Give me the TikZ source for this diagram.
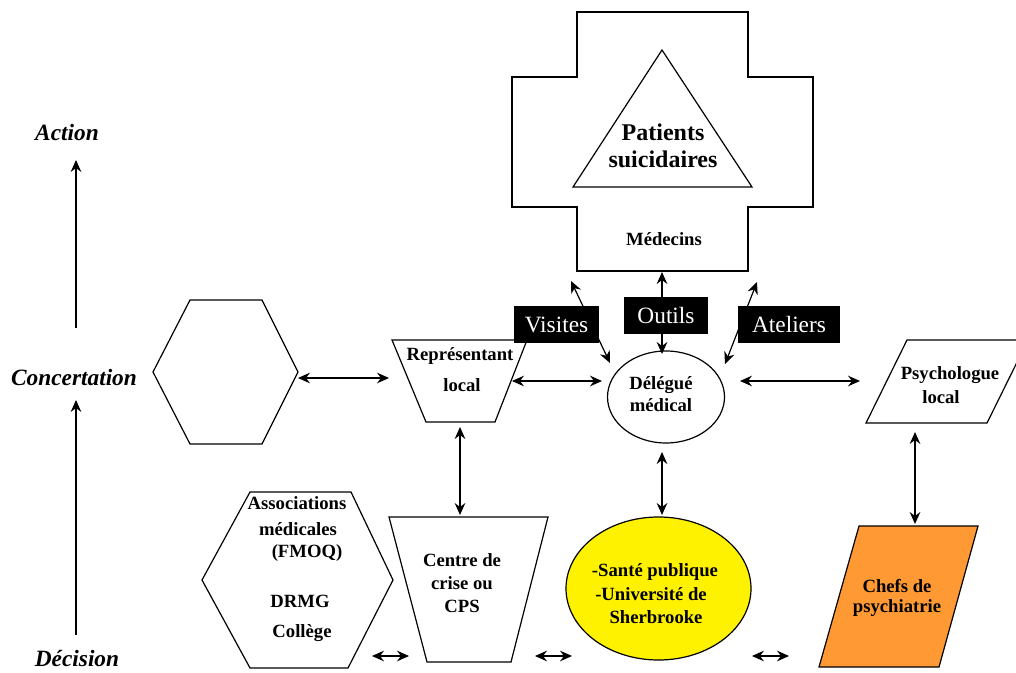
\documentclass[tikz,border=0pt]{standalone}
\usepackage{fontspec}
\setmainfont{Liberation Serif}
\usetikzlibrary{arrows.meta,shapes.geometric}
\begin{document}
\begin{tikzpicture}[x=0.75pt,y=-0.75pt,
  shp/.style={draw=black,line width=0.9pt,line join=miter},
  txt/.style={inner sep=0pt,font=\fontsize{14}{17}\selectfont\bfseries},
  big/.style={inner sep=0pt,align=center,font=\fontsize{18}{20.25}\selectfont\bfseries},
  lbl/.style={fill=black,text=white,inner sep=0pt,minimum height=27.75pt,font=\fontsize{17.5}{20}\selectfont},
  ax/.style={inner sep=0pt,font=\fontsize{17.5}{20}\selectfont\bfseries\itshape},
  tip/.tip={Stealth[length=9pt,width=8pt,inset=3pt]},
  dbl/.style={line width=0.9pt,tip-tip},
  sgl/.style={line width=0.9pt,-tip}
]
\clip (0,0) rectangle (1016,673);
\fill[white] (0,0) rectangle (1016,673);

% axis
\node[ax] (action) at (67,133) {Action};
\node[ax] (conc) at (74,378) {Concertation};
\node[ax] (dec) at (77,659) {Décision};
\coordinate (a1) at (76,328); \coordinate (a2) at (76,160);
\coordinate (a3) at (76,635); \coordinate (a4) at (76,400);
\draw[sgl] (a1) -- (a2);
\draw[sgl] (a3) -- (a4);

% cross with triangle
\draw[shp] (577,12) -- (748,12) -- (748,77) -- (813,77) -- (813,207) -- (748,207)
  -- (748,271) -- (577,271) -- (577,207) -- (512,207) -- (512,77) -- (577,77) -- cycle;
\draw[shp] (662,50) -- (752,187) -- (573,187) -- cycle;
\node[big] (patients) at (663,146) {Patients\\suicidaires};
\node[txt] (medecins) at (664,239) {Médecins};

% left hexagon
\draw[shp] (153,372) -- (190,300) -- (262,300) -- (298,372) -- (262,444) -- (190,444) -- cycle;

% representant local
\draw[shp] (392,340) -- (527,340) -- (495,422) -- (426,422) -- cycle;
\node[txt] (rep1) at (460,356) {Représentant};
\node[txt] (rep2) at (462,385) {local};

% delegue medical
\node[ellipse,draw=black,line width=0.9pt,minimum width=87.75pt,minimum height=69pt,inner sep=0pt] (del) at (666,397) {};
\node[txt,align=center,font=\fontsize{14}{17}\selectfont\bfseries] (deltxt) at (661,394) {Délégué\\médical};

% psychologue local
\draw[shp] (907,340) -- (1028,340) -- (987,423) -- (866,423) -- cycle;
\node[txt] (psy1) at (950,375) {Psychologue};
\node[txt] (psy2) at (941,397) {local};

% associations hexagon
\draw[shp] (202,580) -- (250,492) -- (351,492) -- (393,580) -- (348,668) -- (250,668) -- cycle;
\node[txt] (as1) at (297,503) {Associations};
\node[txt] (as2) at (298,529) {médicales};
\node[txt] (as3) at (307,553) {(FMOQ)};
\node[txt] (as4) at (300,601) {DRMG};
\node[txt] (as5) at (302,633) {Collège};

% centre de crise
\draw[shp] (389,517) -- (548,517) -- (511,662) -- (427,662) -- cycle;
\node[txt,align=center,font=\fontsize{14}{17.25}\selectfont\bfseries] (centre) at (462,583) {Centre de\\crise ou\\CPS};

% sante publique
\node[ellipse,draw=black,line width=0.9pt,fill=yellow,minimum width=138.75pt,minimum height=107.25pt,inner sep=0pt] (sante) at (658.5,588.5) {};
\node[txt] (s1) at (655,572) {-Santé publique};
\node[txt] (s2) at (651,594) {-Université de};
\node[txt] (s3) at (656,617) {Sherbrooke};

% chefs de psychiatrie
\draw[shp,fill={rgb,255:red,255;green,153;blue,51}] (859,526) -- (978,526) -- (939,667) -- (819,667) -- cycle;
\node[txt] (c1) at (897,586) {Chefs de};
\node[txt] (c2) at (897,608) {psychiatrie};

% connector endpoints
\coordinate (h1) at (298,378); \coordinate (h2) at (389,378);
\coordinate (r1) at (512,381); \coordinate (r2) at (602,381);
\coordinate (d1) at (740,381); \coordinate (d2) at (860,381);
\coordinate (rv1) at (460,427); \coordinate (rv2) at (460,515);
\coordinate (dv1) at (662,452); \coordinate (dv2) at (662,515);
\coordinate (pv1) at (915,432); \coordinate (pv2) at (915,524);
\coordinate (x1) at (571,281); \coordinate (x2) at (610,363);
\coordinate (y1) at (662,272); \coordinate (y2) at (662,354);
\coordinate (z1) at (757,282); \coordinate (z2) at (725,364);
\coordinate (b1) at (372,656); \coordinate (b2) at (409,656);
\coordinate (b3) at (535,656); \coordinate (b4) at (572,656);
\coordinate (b5) at (752,656); \coordinate (b6) at (789,656);

\draw[dbl] (h1) -- (h2);
\draw[dbl] (r1) -- (r2);
\draw[dbl] (d1) -- (d2);
\draw[dbl] (rv1) -- (rv2);
\draw[dbl] (dv1) -- (dv2);
\draw[dbl] (pv1) -- (pv2);
\draw[dbl] (x1) -- (x2);
\draw[dbl] (y1) -- (y2);
\draw[dbl] (z1) -- (z2);
\draw[dbl] (b1) -- (b2);
\draw[dbl] (b3) -- (b4);
\draw[dbl] (b5) -- (b6);

% black labels
\node[lbl,minimum width=63.75pt] (visites) at (556.5,324.5) {Visites};
\node[lbl,minimum width=63pt] (outils) at (666,315.5) {Outils};
\node[lbl,minimum width=76.5pt] (ateliers) at (789,324.5) {Ateliers};
\end{tikzpicture}
\end{document}
